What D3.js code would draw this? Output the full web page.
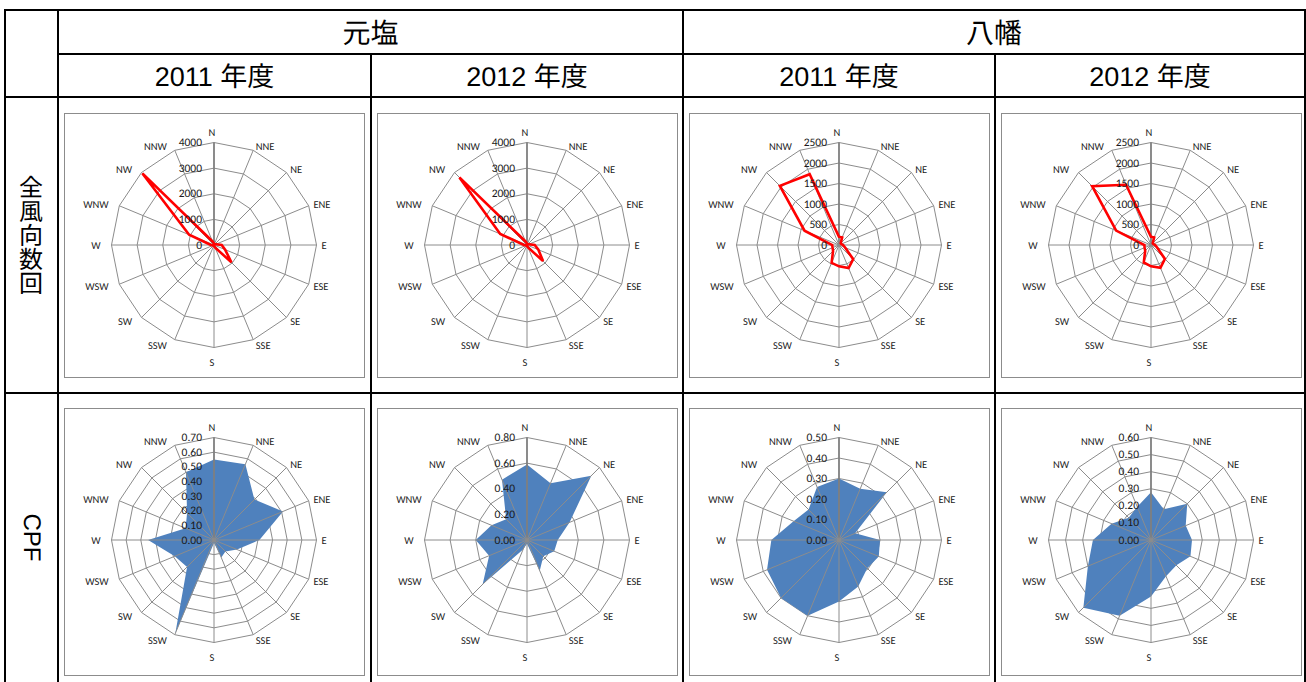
<!DOCTYPE html>
<html>
<head>
<meta charset="utf-8">
<script src="https://cdn.jsdelivr.net/npm/d3@7"></script>
<style>
  html, body { margin: 0; padding: 0; background: #fff; }
  svg { display: block; }
  text { text-rendering: geometricPrecision; }
</style>
</head>
<body>
<svg id="chart" width="1306" height="682"></svg>
<script>
// Wind directions, clockwise from north
const directions = ["N","NNE","NE","ENE","E","ESE","SE","SSE","S","SSW","SW","WSW","W","WNW","NW","NNW"];

const stations = ["元塩", "八幡"];
const years = ["2011 年度", "2012 年度"];
const rowLabels = ["全風向数回", "CPF"];

// Wind direction counts (all directions)
const motoshioCount2011 = [60, 40, 50, 80, 300, 470, 960, 100, 40, 30, 30, 40, 120, 1050, 3950, 150];
const motoshioCount2012 = [60, 40, 50, 80, 300, 480, 885, 100, 40, 30, 30, 40, 120, 1130, 3730, 150];
const yawataCount2011   = [200, 200, 60, 60, 100, 160, 490, 610, 520, 470, 205, 170, 165, 910, 2040, 1870];
const yawataCount2012   = [200, 200, 60, 60, 100, 160, 480, 600, 520, 460, 200, 170, 160, 920, 2030, 1590];

// CPF values by direction
const motoshioCpf2011 = [0.55, 0.56, 0.39, 0.51, 0.31, 0.17, 0.11, 0.13, 0.02, 0.69, 0.26, 0.29, 0.45, 0.21, 0.26, 0.50];
const motoshioCpf2012 = [0.59, 0.48, 0.71, 0.36, 0.24, 0.23, 0.18, 0.26, 0.03, 0.08, 0.49, 0.32, 0.40, 0.30, 0.23, 0.51];
const yawataCpf2011   = [0.30, 0.27, 0.33, 0.085, 0.20, 0.21, 0.195, 0.245, 0.30, 0.40, 0.40, 0.38, 0.33, 0.24, 0.21, 0.28];
const yawataCpf2012   = [0.28, 0.195, 0.30, 0.22, 0.24, 0.25, 0.21, 0.23, 0.33, 0.48, 0.56, 0.40, 0.34, 0.25, 0.185, 0.21];

// Radial axis tick labels per chart
const ticksCount4000 = [0, 1000, 2000, 3000, 4000];
const ticksCount2500 = [0, 500, 1000, 1500, 2000, 2500];
const ticksCpf070 = [0, 0.1, 0.2, 0.3, 0.4, 0.5, 0.6, 0.7];
const ticksCpf080 = [0, 0.2, 0.4, 0.6, 0.8];
const ticksCpf050 = [0, 0.1, 0.2, 0.3, 0.4, 0.5];
const ticksCpf060 = [0, 0.1, 0.2, 0.3, 0.4, 0.5, 0.6];

const svg = d3.select("#chart");
const cjk = "'Liberation Sans', Arial, 'Noto Sans CJK JP', sans-serif";
const small = "Carlito, 'Open Sans', 'Liberation Sans', sans-serif";

// ---- table grid ----
const colX = [5, 58, 371, 683, 995, 1305];
const rowY = [10, 54, 97, 393, 682];
const grid = svg.append("g").attr("stroke", "#000").attr("stroke-width", 2);
// horizontal rules
grid.append("line").attr("x1", 5).attr("x2", 1306).attr("y1", rowY[0]).attr("y2", rowY[0]);
grid.append("line").attr("x1", colX[1]).attr("x2", 1306).attr("y1", rowY[1]).attr("y2", rowY[1]);
grid.append("line").attr("x1", 5).attr("x2", 1306).attr("y1", rowY[2]).attr("y2", rowY[2]);
grid.append("line").attr("x1", 5).attr("x2", 1306).attr("y1", rowY[3]).attr("y2", rowY[3]);
// vertical rules
[0, 1, 3, 5].forEach(i => grid.append("line").attr("x1", colX[i]).attr("x2", colX[i]).attr("y1", rowY[0] - 1).attr("y2", 682));
[2, 4].forEach(i => grid.append("line").attr("x1", colX[i]).attr("x2", colX[i]).attr("y1", rowY[1]).attr("y2", 682));

// ---- headers ----
stations.forEach((s, i) => {
  svg.append("text")
    .attr("x", (colX[1 + 2 * i] + colX[3 + 2 * i]) / 2)
    .attr("y", (rowY[0] + rowY[1]) / 2 + 1)
    .attr("text-anchor", "middle").attr("dominant-baseline", "central")
    .attr("font-family", cjk).attr("font-size", 28).text(s);
});
for (let c = 0; c < 4; c++) {
  svg.append("text")
    .attr("x", (colX[1 + c] + colX[2 + c]) / 2)
    .attr("y", (rowY[1] + rowY[2]) / 2 + 1)
    .attr("text-anchor", "middle").attr("dominant-baseline", "central")
    .attr("font-family", cjk).attr("font-size", 27).text(years[c % 2]);
}
// vertical row label, set in vertical writing mode
svg.append("text")
  .attr("x", 31)
  .attr("y", (rowY[2] + rowY[3]) / 2 - 10)
  .attr("writing-mode", "vertical-rl")
  .attr("text-anchor", "middle")
  .attr("font-family", "'Noto Sans CJK JP', sans-serif").attr("font-size", 24)
  .text(rowLabels[0]);
// rotated row label
svg.append("text")
  .attr("transform", `translate(31, ${(rowY[3] + 682) / 2}) rotate(90)`)
  .attr("text-anchor", "middle").attr("dominant-baseline", "central")
  .attr("font-family", cjk).attr("font-size", 24).text(rowLabels[1]);

// ---- radar charts ----
const charts = [
  { col: 0, row: 0, values: motoshioCount2011, ticks: ticksCount4000, fmt: d3.format("d"), kind: "line" },
  { col: 1, row: 0, values: motoshioCount2012, ticks: ticksCount4000, fmt: d3.format("d"), kind: "line" },
  { col: 2, row: 0, values: yawataCount2011, ticks: ticksCount2500, fmt: d3.format("d"), kind: "line" },
  { col: 3, row: 0, values: yawataCount2012, ticks: ticksCount2500, fmt: d3.format("d"), kind: "line" },
  { col: 0, row: 1, values: motoshioCpf2011, ticks: ticksCpf070, fmt: d3.format(".2f"), kind: "area" },
  { col: 1, row: 1, values: motoshioCpf2012, ticks: ticksCpf080, fmt: d3.format(".2f"), kind: "area" },
  { col: 2, row: 1, values: yawataCpf2011, ticks: ticksCpf050, fmt: d3.format(".2f"), kind: "area" },
  { col: 3, row: 1, values: yawataCpf2012, ticks: ticksCpf060, fmt: d3.format(".2f"), kind: "area" }
];

const R = 102.5;
const n = directions.length;
const angle = i => i * 2 * Math.PI / n;

charts.forEach(c => {
  const fx = colX[1 + c.col] + 6;
  const fy = c.row === 0 ? 113 : 408;
  const fh = c.row === 0 ? 264 : 267;
  const cx = fx + 150, cy = fy + 132;
  const g = svg.append("g");

  // chart area frame
  g.append("rect").attr("x", fx + 0.5).attr("y", fy + 0.5).attr("width", 300).attr("height", fh)
    .attr("fill", "#fff").attr("stroke", "#8c8c8c").attr("stroke-width", 1);

  const r = d3.scaleLinear().domain([0, d3.max(c.ticks)]).range([0, R]);
  const pg = g.append("g").attr("transform", `translate(${cx},${cy})`);

  // polygonal gridlines
  const ring = d3.lineRadial().angle((d, i) => angle(i)).radius(d => d).curve(d3.curveLinearClosed);
  c.ticks.slice(1).forEach(t => {
    pg.append("path").attr("d", ring(d3.range(n).map(() => r(t))))
      .attr("fill", "none").attr("stroke", "#8c8c8c").attr("stroke-width", 1);
  });

  // series
  const shape = d3.lineRadial().angle((d, i) => angle(i)).radius(d => r(d)).curve(d3.curveLinearClosed);
  if (c.kind === "area") {
    pg.append("path").attr("d", shape(c.values)).attr("fill", "#4f81bd");
  }

  // spokes
  directions.forEach((d, i) => {
    const a = angle(i);
    pg.append("line").attr("x1", 0).attr("y1", 0)
      .attr("x2", R * Math.sin(a)).attr("y2", -R * Math.cos(a))
      .attr("stroke", i === 0 ? "#7f7f7f" : "#8c8c8c").attr("stroke-width", i === 0 ? 1.8 : 1);
  });

  if (c.kind === "line") {
    pg.append("path").attr("d", shape(c.values))
      .attr("fill", "none").attr("stroke", "#ff0000").attr("stroke-width", 2.6).attr("stroke-linejoin", "miter");
  }

  // direction labels, placed just outside each outer vertex
  directions.forEach((d, i) => {
    const a = angle(i);
    const s = Math.sin(a), co = Math.cos(a);
    const vx = R * s, vy = -R * co;
    let x, y, anchor;
    if (Math.abs(s) < 0.01) {
      x = vx - 2; anchor = "middle";
      y = co > 0 ? vy - 11 : vy + 14;
    } else if (s > 0) {
      x = vx + 1 + 4 * s; anchor = "start";
      y = vy - 5 * co;
    } else {
      x = vx - 6 - 5 * Math.abs(s); anchor = "end";
      y = vy - 5 * co;
    }
    pg.append("text").attr("x", x).attr("y", y + 0.7)
      .attr("text-anchor", anchor).attr("dominant-baseline", "central")
      .attr("font-family", small).attr("font-size", 10.5).attr("fill", "#1a1a1a").text(d);
  });

  // radial axis tick labels
  c.ticks.forEach(t => {
    pg.append("text").attr("x", -12).attr("y", -r(t) + 0.5)
      .attr("text-anchor", "end").attr("dominant-baseline", "central")
      .attr("font-family", small).attr("font-size", 11.5).attr("fill", "#1a1a1a").text(c.fmt(t));
  });
});
</script>
</body>
</html>
